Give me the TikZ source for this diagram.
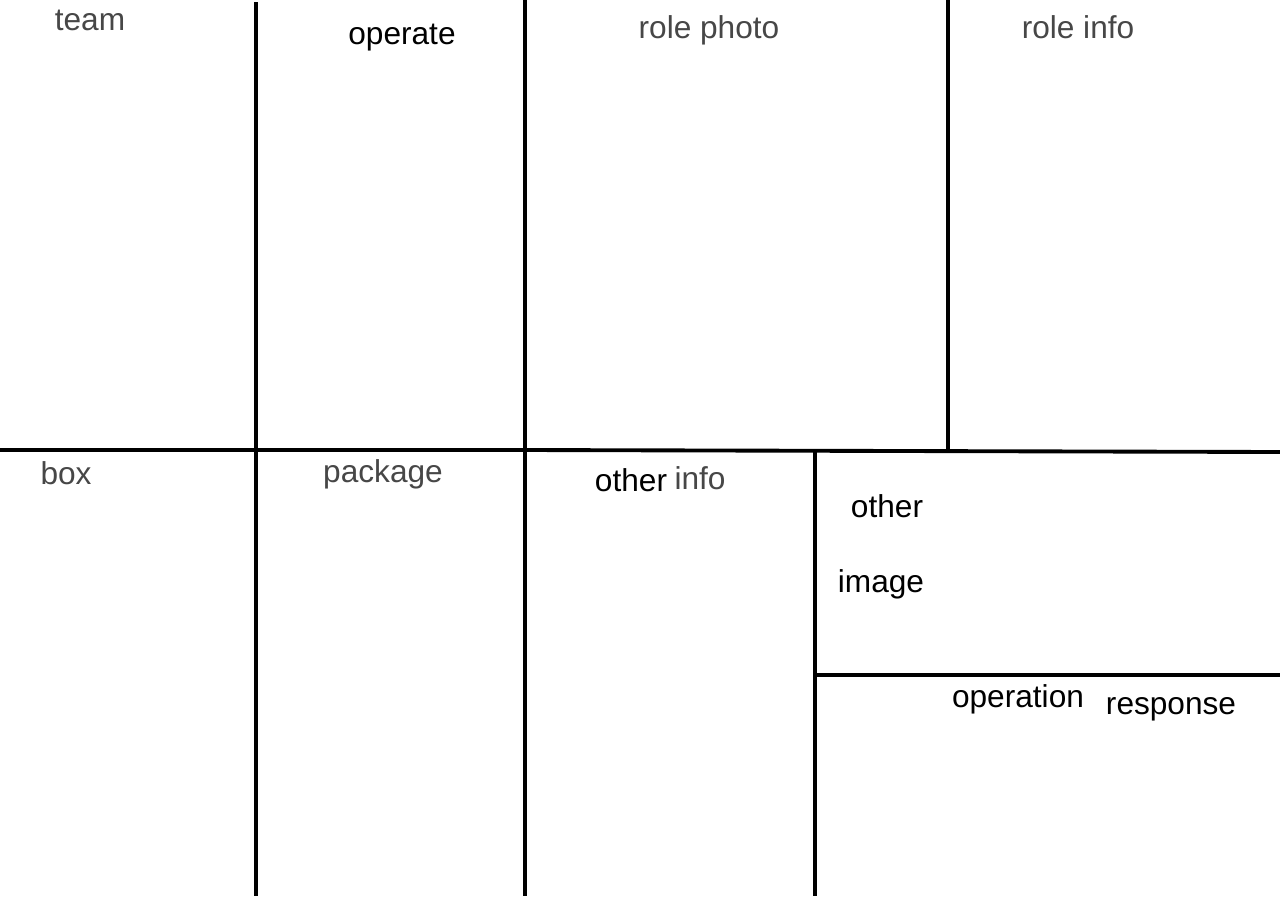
\documentclass[tikz,border=0pt]{standalone}
\usepackage{fontspec}
\setmainfont{Liberation Sans}
\usepackage{tikz}

\begin{document}
\begin{tikzpicture}[x=0.02cm,y=-0.02cm,
  wall/.style={line width=2.2pt, black},
  lbl/.style={anchor=base, inner sep=0pt, font=\fontsize{18}{20}\selectfont},
  faint/.style={lbl, text=black!72}]
\useasboundingbox (0,0) rectangle (1280,896);
% Grid lines
\draw[wall] (0,450) -- (525,450) -- (1280,452);
\draw[wall] (256,2) -- (256,896);
\draw[wall] (525,0) -- (525,896);
\draw[wall] (948,0) -- (948,452);
\draw[wall] (815,452) -- (815,896);
\draw[wall] (815,675) -- (1280,675);
% Top row
\node[faint] (team) at (90,30) {team};
\node[lbl] (operate) at (402,44) {operate};
\node[faint] (rolephoto) at (709,38) {role photo};
\node[faint] (roleinfo) at (1078,38) {role info};
% Bottom row
\node[faint] (box) at (66,484) {box};
\node[faint] (package) at (383,482) {package};
\node[lbl] (otherA) at (631,491) {other};
\node[faint] (info) at (700,489) {info};
\node[lbl] (otherB) at (887,517) {other};
\node[lbl] (image) at (881,592) {image};
\node[lbl] (operation) at (1018,707) {operation};
\node[lbl] (response) at (1171,714) {response};
\end{tikzpicture}
\end{document}
